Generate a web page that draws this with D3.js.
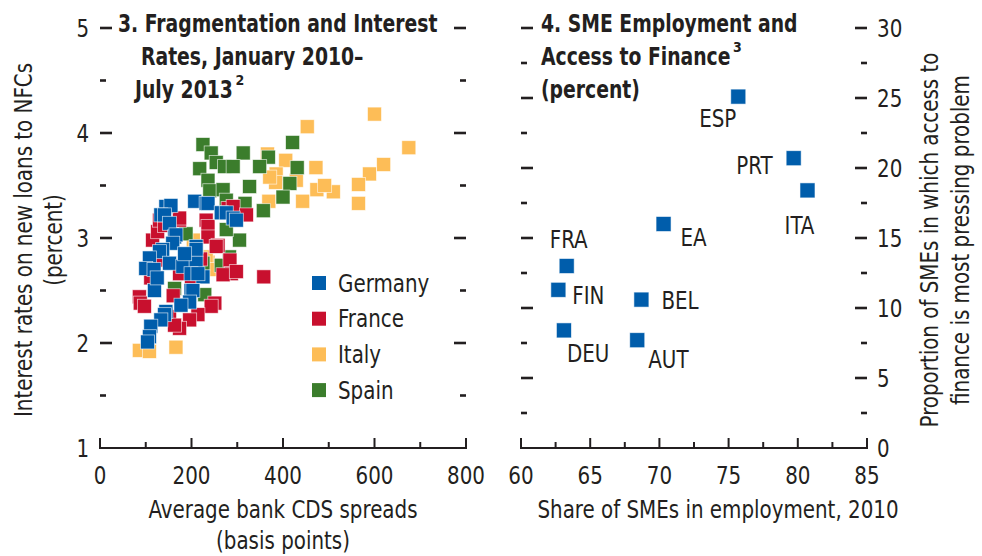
<!DOCTYPE html>
<html>
<head>
<meta charset="utf-8">
<script src="https://cdn.jsdelivr.net/npm/d3@7"></script>
<style>
  html, body { margin: 0; padding: 0; background: #fff; }
  svg text { font-family: "Liberation Sans Narrow", "DejaVu Sans Condensed", "Arial Narrow", sans-serif; fill: #231f20; }
</style>
</head>
<body>
<svg id="chart" width="982" height="556"></svg>
<script>
// ---- Panel 3: average bank CDS spreads (bp) vs. interest rates on new NFC loans (%)
const germany = [
  [144,3.30],[155,3.31],[133,3.22],[141,3.22],[207,3.35],[232,3.33],[236,3.33],[265,3.24],
  [276,3.24],[291,3.19],[298,3.17],[152,3.14],[163,3.01],[166,3.03],[159,2.95],[137,2.89],
  [210,2.92],[210,2.89],[130,2.87],[108,2.81],[100,2.71],[152,2.76],[181,2.73],[210,2.76],
  [199,2.66],[225,2.63],[214,2.66],[119,2.50],[199,2.50],[203,2.50],[196,2.39],[177,2.36],
  [144,2.30],[141,2.27],[133,2.22],[111,2.16],[108,2.06],[104,2.01],[118,2.70],[125,2.62],[185,2.85]
];
const france = [
  [115,2.98],[126,3.06],[130,3.17],[141,3.12],[174,3.17],[174,3.19],[232,3.17],[236,3.11],
  [236,3.01],[280,3.28],[291,3.30],[320,3.22],[258,2.93],[254,2.92],[284,2.79],[287,2.66],
  [269,2.65],[298,2.68],[358,2.63],[133,2.79],[111,2.62],[86,2.44],[88,2.38],[97,2.35],
  [251,2.38],[243,2.35],[214,2.27],[196,2.22],[174,2.14],[152,2.25],[163,2.17],[174,2.66],
  [160,2.45],[200,2.55],[220,2.80]
];
const italy = [
  [600,4.18],[675,3.86],[620,3.70],[589,3.61],[565,3.51],[510,3.44],[565,3.33],[453,4.06],
  [472,3.67],[406,3.74],[366,3.80],[385,3.61],[384,3.53],[429,3.55],[474,3.46],[491,3.50],
  [443,3.35],[369,3.35],[371,3.58],[204,2.98],[236,2.77],[232,2.82],[240,2.70],[86,1.93],
  [108,1.92],[166,1.96]
];
const spain = [
  [225,3.89],[243,3.81],[313,3.81],[368,3.77],[421,3.91],[218,3.66],[254,3.72],[272,3.68],
  [291,3.68],[349,3.68],[431,3.67],[236,3.55],[240,3.45],[269,3.46],[327,3.49],[415,3.52],
  [400,3.39],[276,3.36],[317,3.33],[357,3.26],[305,2.98],[276,3.08],[188,3.04],[225,2.76],
  [283,2.82],[265,2.74],[163,2.52],[229,2.46]
];
const seriesNames = ["Germany", "France", "Italy", "Spain"];
const seriesColors = ["#005dab", "#c8102e", "#fdbd57", "#3b7d2c"];
const cdsTicks = [0, 200, 400, 600, 800];
const rateTicks = [1, 2, 3, 4, 5];

// ---- Panel 4: SME share of employment vs. share citing access to finance
const smeCountries = ["ESP", "PRT", "ITA", "EA", "FRA", "FIN", "BEL", "DEU", "AUT"];
const smeEmployment = [75.7, 79.7, 80.7, 70.3, 63.3, 62.7, 68.7, 63.1, 68.4];
const financeProblem = [25.1, 20.7, 18.4, 16.0, 13.0, 11.3, 10.6, 8.4, 7.7];
const shareTicks = [60, 65, 70, 75, 80, 85];
const proportionTicks = [0, 5, 10, 15, 20, 25, 30];

// label placement around each marker: [dx, dy, anchor]
const labelPlacement = {
  ESP: [-2, 30, "end"], PRT: [-21, 16, "end"], ITA: [-8, 44, "middle"],
  EA: [17, 22, "start"], FRA: [2, -18, "middle"], FIN: [14, 14, "start"],
  BEL: [20, 9, "start"], DEU: [3, 32, "start"], AUT: [11, 28, "start"]
};

const svg = d3.select("#chart");
const ink = "#231f20";
const FS = 24;
const plotTop = 28, plotBottom = 448;
const markSize = 14;

const x3 = d3.scaleLinear().domain([0, 800]).range([100, 466]);
const y3 = d3.scaleLinear().domain([1, 5]).range([plotBottom, plotTop]);
const x4 = d3.scaleLinear().domain([60, 85]).range([521, 867]);
const y4 = d3.scaleLinear().domain([0, 30]).range([plotBottom, plotTop]);

// horizontal tick dashes on a vertical panel edge (no spine)
function edgeTicks(g, y, values, isMajor, x0, dir) {
  g.selectAll(null).data(values).join("line")
    .attr("x1", x0)
    .attr("x2", d => x0 + dir * (isMajor(d) ? 12 : 6))
    .attr("y1", d => y(d)).attr("y2", d => y(d))
    .attr("stroke", ink).attr("stroke-width", 2.6);
}

// bottom spine with upward ticks
function bottomAxis(g, x, values, isMajor, labels) {
  const [r0, r1] = x.range();
  g.append("line").attr("x1", r0 - 1).attr("x2", r1 + 1)
    .attr("y1", plotBottom).attr("y2", plotBottom)
    .attr("stroke", ink).attr("stroke-width", 2.2);
  g.selectAll(null).data(values).join("line")
    .attr("x1", d => x(d)).attr("x2", d => x(d))
    .attr("y1", plotBottom).attr("y2", d => plotBottom - (isMajor(d) ? 10 : 6))
    .attr("stroke", ink).attr("stroke-width", 2);
  g.selectAll(null).data(labels).join("text")
    .attr("x", d => x(d)).attr("y", plotBottom + 36)
    .attr("text-anchor", "middle").attr("font-size", FS)
    .text(d => d);
}

// one bold title line per text element
function titleLine(g, x, y, str) {
  return g.append("text").attr("class", "title")
    .attr("x", x).attr("y", y)
    .attr("font-size", FS).attr("font-weight", "bold").text(str);
}

// ===== Panel 3 =====
const p3 = svg.append("g");
const rateMinor = d3.range(1.5, 5.01, 0.5);
const isInt = d => Math.abs(d - Math.round(d)) < 1e-6;
edgeTicks(p3, y3, rateMinor, isInt, 100, 1);
edgeTicks(p3, y3, rateMinor, isInt, 466, -1);
bottomAxis(p3, x3, d3.range(0, 801, 100), d => d % 200 === 0, cdsTicks);
p3.selectAll(null).data(rateTicks).join("text")
  .attr("x", 89).attr("y", d => y3(d)).attr("dy", "0.36em")
  .attr("text-anchor", "end").attr("font-size", FS).text(d => d);

const allSeries = [germany, france, italy, spain];
// paint order: Italy, Spain, France, Germany on top
[2, 3, 1, 0].forEach(i => {
  p3.append("g").selectAll("rect").data(allSeries[i]).join("rect")
    .attr("x", d => x3(d[0]) - markSize / 2)
    .attr("y", d => y3(d[1]) - markSize / 2)
    .attr("width", markSize).attr("height", markSize)
    .attr("fill", seriesColors[i])
    .attr("stroke", "#ffffff").attr("stroke-opacity", 0.7).attr("stroke-width", 0.8);
});

// legend
const legend = p3.append("g");
seriesNames.forEach((name, i) => {
  const cy = 283 + i * 35.7;
  legend.append("rect").attr("x", 312).attr("y", cy - 7).attr("width", 14).attr("height", 14)
    .attr("fill", seriesColors[i]);
  legend.append("text").attr("x", 338).attr("y", cy).attr("dy", "0.36em")
    .attr("font-size", FS).text(name);
});

// title
titleLine(p3, 118, 32, "3. Fragmentation and Interest");
titleLine(p3, 141, 65, "Rates, January 2010–");
const t3last = titleLine(p3, 135, 98, "July 2013");

// axis titles
p3.append("text").attr("x", 283).attr("y", 518).attr("text-anchor", "middle")
  .attr("font-size", FS).text("Average bank CDS spreads");
p3.append("text").attr("x", 283).attr("y", 549).attr("text-anchor", "middle")
  .attr("font-size", FS).text("(basis points)");
const yl = p3.append("text").attr("transform", "translate(32,240) rotate(-90)")
  .attr("text-anchor", "middle").attr("font-size", FS);
yl.append("tspan").attr("x", 0).attr("y", 0).text("Interest rates on new loans to NFCs");
yl.append("tspan").attr("x", 0).attr("y", 30).text("(percent)");

// ===== Panel 4 =====
const p4 = svg.append("g");
const propMinor = d3.range(2.5, 30.01, 2.5);
const isFive = d => d % 5 === 0;
edgeTicks(p4, y4, propMinor, isFive, 521, 1);
edgeTicks(p4, y4, propMinor, isFive, 867, -1);
bottomAxis(p4, x4, d3.range(60, 85.01, 2.5), isFive, shareTicks);
p4.selectAll(null).data(proportionTicks).join("text")
  .attr("x", 877).attr("y", d => y4(d)).attr("dy", "0.36em")
  .attr("text-anchor", "start").attr("font-size", FS).text(d => d);

const pts = smeCountries.map((c, i) => ({ c, x: smeEmployment[i], y: financeProblem[i] }));
p4.append("g").selectAll("rect").data(pts).join("rect")
  .attr("x", d => x4(d.x) - 7.5).attr("y", d => y4(d.y) - 7.5)
  .attr("width", 15).attr("height", 15)
  .attr("fill", seriesColors[0])
  .attr("stroke", "#ffffff").attr("stroke-opacity", 0.7).attr("stroke-width", 0.8);
p4.append("g").selectAll("text").data(pts).join("text")
  .attr("x", d => x4(d.x) + labelPlacement[d.c][0])
  .attr("y", d => y4(d.y) + labelPlacement[d.c][1])
  .attr("text-anchor", d => labelPlacement[d.c][2])
  .attr("font-size", FS).text(d => d.c);

titleLine(p4, 541, 32, "4. SME Employment and");
const t4mid = titleLine(p4, 541, 65, "Access to Finance");
titleLine(p4, 541, 98, "(percent)");

p4.append("text").attr("x", 718).attr("y", 518).attr("text-anchor", "middle")
  .attr("font-size", FS).text("Share of SMEs in employment, 2010");
const yr = p4.append("text").attr("transform", "translate(938,240) rotate(-90)")
  .attr("text-anchor", "middle").attr("font-size", FS);
yr.append("tspan").attr("x", 0).attr("y", 0).text("Proportion of SMEs in which access to");
yr.append("tspan").attr("x", 0).attr("y", 31).text("finance is most pressing problem");

// condensed lettering: narrow each run of text horizontally
function squeeze(sel, k) {
  sel.each(function () {
    const spans = this.querySelectorAll("tspan");
    const runs = spans.length ? Array.from(spans) : [this];
    runs.forEach(r => {
      const len = r.getComputedTextLength();
      r.setAttribute("textLength", (len * k).toFixed(1));
      r.setAttribute("lengthAdjust", "spacingAndGlyphs");
    });
  });
}
squeeze(svg.selectAll("text.title"), 0.87);
squeeze(svg.selectAll("text:not(.title)"), 0.92);

// footnote markers placed just after the end of their title lines
function noteMark(g, line, mark) {
  const bb = line.node().getBBox();
  g.append("text").attr("class", "note")
    .attr("x", bb.x + bb.width + 2.5).attr("y", +line.attr("y") - 13)
    .attr("font-size", 14).attr("font-weight", "bold").text(mark);
}
noteMark(p3, t3last, "2");
noteMark(p4, t4mid, "3");
</script>
</body>
</html>
